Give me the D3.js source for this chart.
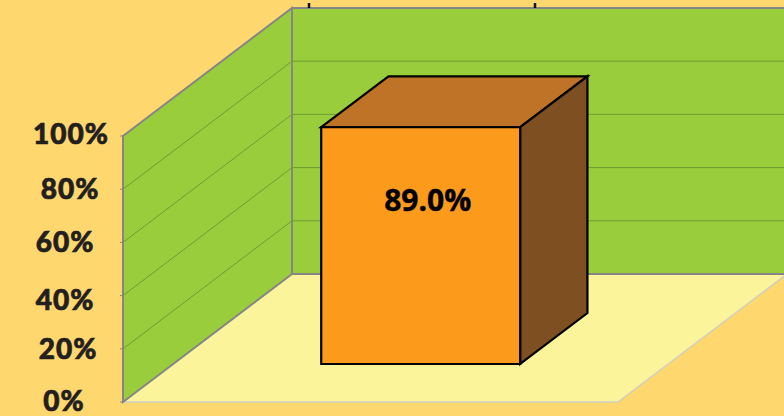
<!DOCTYPE html>
<html>
<head>
<meta charset="utf-8">
<script src="https://cdn.jsdelivr.net/npm/d3@7"></script>
<style>
html, body { margin: 0; padding: 0; background: #ffd76f; overflow: hidden; }
svg { display: block; }
</style>
</head>
<body>
<div id="chart"></div>
<script>
// chart values
const categories = ["Series 1"];
const values = [89.0];
const tickValues = [0, 20, 40, 60, 80, 100];
const tickLabels = ["0%", "20%", "40%", "60%", "80%", "100%"];

const width = 784;
const height = 416;

const svg = d3.select("#chart")
    .append("svg")
    .attr("width", width)
    .attr("height", height);

// front plane of the 3d box
const y = d3.scaleLinear().domain([0, 100]).range([402, 136]);
const x = d3.scaleBand().domain(categories).range([123, 618]).paddingInner(0).paddingOuter(0.744);

// depth goes from 0 (front) to 1 (back wall)
const depthX = d3.scaleLinear().domain([0, 1]).range([0, 169]);
const depthY = d3.scaleLinear().domain([0, 1]).range([0, -128]);

// project a point given in chart terms
function pt(px, v, d) {
    return [px + depthX(d), y(v) + depthY(d)];
}
const line = d3.line();
const poly = pts => line(pts) + "Z";

const x0 = x.range()[0];
const x1 = x.range()[1];

// floor
svg.append("path")
    .attr("d", poly([pt(x0, 0, 0), pt(x1, 0, 0), pt(x1, 0, 1), pt(x0, 0, 1)]))
    .attr("fill", "#fcf49b")
    .attr("stroke", "#cfcfc0")
    .attr("stroke-width", 1.5);

// back wall
svg.append("path")
    .attr("d", poly([pt(x0, 0, 1), pt(x1, 0, 1), pt(x1, 100, 1), pt(x0, 100, 1)]))
    .attr("fill", "#9acd3c")
    .attr("stroke", "#868686")
    .attr("stroke-width", 2);

// side wall
svg.append("path")
    .attr("d", poly([pt(x0, 0, 0), pt(x0, 0, 1), pt(x0, 100, 1), pt(x0, 100, 0)]))
    .attr("fill", "#9acd3c")
    .attr("stroke", "#868686")
    .attr("stroke-width", 2);

// gridlines on both walls
svg.append("g")
    .selectAll("path")
    .data(tickValues.filter(t => t > 0 && t < 100))
    .enter()
    .append("path")
    .attr("d", t => line([pt(x0, t, 0), pt(x0, t, 1), pt(x1, t, 1)]))
    .attr("fill", "none")
    .attr("stroke", "#6f9a35")
    .attr("stroke-width", 1);

// little stubs on the value axis
svg.append("g")
    .selectAll("line")
    .data(tickValues)
    .enter()
    .append("line")
    .attr("x1", x0 - 3)
    .attr("x2", x0)
    .attr("y1", d => y(d))
    .attr("y2", d => y(d))
    .attr("stroke", "#868686")
    .attr("stroke-width", 1);

// stubs left over on the top edge of the back wall
svg.append("g")
    .selectAll("line")
    .data([17, 243])
    .enter()
    .append("line")
    .attr("x1", d => pt(x0, 100, 1)[0] + d)
    .attr("x2", d => pt(x0, 100, 1)[0] + d)
    .attr("y1", pt(x0, 100, 1)[1] - 5)
    .attr("y2", pt(x0, 100, 1)[1])
    .attr("stroke", "#111")
    .attr("stroke-width", 2.5);

// value labels sit a bit unevenly in the original
const labelX = [64, 68, 65, 65, 70, 71];
const labelDy = [9, 10.5, 14, 10, 9.5, 7.5];

svg.append("g")
    .selectAll("text")
    .data(tickValues)
    .enter()
    .append("text")
    .attr("x", (d, i) => labelX[i])
    .attr("y", (d, i) => y(d) + labelDy[i])
    .attr("text-anchor", "middle")
    .attr("font-family", "Lato, sans-serif")
    .attr("font-weight", 900)
    .attr("font-size", 28)
    .attr("letter-spacing", 1)
    .attr("stroke", "#231f20")
    .attr("stroke-width", 0.7)
    .attr("fill", "#231f20")
    .text((d, i) => tickLabels[i]);

// the bar, depth 0.3 to 0.7 of the floor
const d0 = 0.297;
const d1 = 0.695;
const bars = svg.append("g")
    .selectAll("g")
    .data(categories)
    .enter()
    .append("g")
    .attr("stroke", "#000")
    .attr("stroke-width", 2.2)
    .attr("stroke-linejoin", "miter");

bars.append("path")
    .attr("d", (c, i) => {
        const a = x(c), b = x(c) + x.bandwidth(), v = values[i];
        return poly([pt(a, v, d0), pt(b, v, d0), pt(b, v, d1), pt(a, v, d1)]);
    })
    .attr("fill", "#be7326");

bars.append("path")
    .attr("d", (c, i) => {
        const b = x(c) + x.bandwidth(), v = values[i];
        return poly([pt(b, 0, d0), pt(b, 0, d1), pt(b, v, d1), pt(b, v, d0)]);
    })
    .attr("fill", "#7e4f20");

bars.append("path")
    .attr("d", (c, i) => {
        const a = x(c), b = x(c) + x.bandwidth(), v = values[i];
        return poly([pt(a, 0, d0), pt(b, 0, d0), pt(b, v, d0), pt(a, v, d0)]);
    })
    .attr("fill", "#fc9a1c");

bars.append("text")
    .attr("x", c => pt(x(c) + x.bandwidth() / 2, 0, d0)[0] + 7)
    .attr("y", 211)
    .attr("text-anchor", "middle")
    .attr("stroke", "#000")
    .attr("stroke-width", 0.4)
    .attr("font-family", "'Open Sans', sans-serif")
    .attr("font-weight", 700)
    .attr("font-size", 30)
    .attr("fill", "#000")
    .text((c, i) => values[i].toFixed(1) + "%");
</script>
</body>
</html>
